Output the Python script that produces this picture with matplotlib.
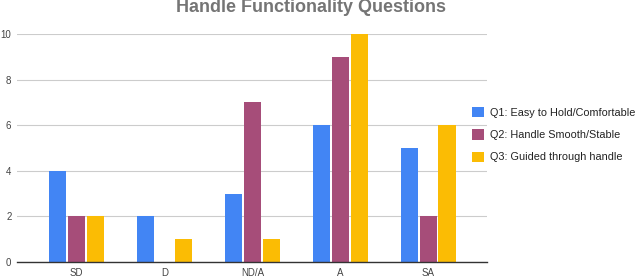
import matplotlib
matplotlib.use("Agg")
import matplotlib.pyplot as plt
import numpy as np

categories = ["SD", "D", "ND/A", "A", "SA"]
series_names = ["Q1: Easy to Hold/Comfortable", "Q2: Handle Smooth/Stable", "Q3: Guided through handle"]
q1 = [4, 2, 3, 6, 5]
q2 = [2, 0, 7, 9, 2]
q3 = [2, 1, 1, 10, 6]
yticks = [0, 2, 4, 6, 8, 10]
colors = ["#4285F4", "#A64D79", "#FBBC04"]

plt.rcParams['font.family'] = ['Liberation Sans', 'DejaVu Sans']
fig = plt.figure(figsize=(6.4, 2.79), dpi=100)
ax = fig.add_axes([17/640, 1-262/279, (487-17)/640, (262-34)/279])

x = np.arange(len(categories))
w = 0.195
offs = [-0.215, 0, 0.215]
for vals, c, off, name in zip([q1, q2, q3], colors, offs, series_names):
    ax.bar(x + off, vals, width=w, color=c, label=name, zorder=3)

ax.set_xlim(-0.68, 4.67)
ax.set_ylim(0, 10)
ax.set_yticks(yticks)
ax.set_xticks(x)
ax.set_xticklabels(categories)
ax.tick_params(axis='both', length=0, labelsize=7, labelcolor="#444444")
ax.tick_params(axis='y', pad=4)
ax.tick_params(axis='x', pad=4)
ax.grid(axis='y', color="#cccccc", linewidth=0.8, zorder=0)
for s in ["top", "right", "left"]:
    ax.spines[s].set_visible(False)
ax.spines["bottom"].set_color("#333333")
ax.spines["bottom"].set_linewidth(1.0)
ax.spines["bottom"].set_zorder(4)

fig.text(311/640, 1-7/279, "Handle Functionality Questions", ha="center", va="center",
         fontsize=13, fontweight="bold", color="#757575")

leg = fig.legend(loc="upper left", bbox_to_anchor=(472/640, 1-107/279), frameon=False,
                 fontsize=7.8, handlelength=1.1, handleheight=1.1, handletextpad=0.6,
                 labelspacing=1.05, borderaxespad=0, borderpad=0)
for t in leg.get_texts():
    t.set_color("#222222")

fig.savefig("out.png", dpi=100)
